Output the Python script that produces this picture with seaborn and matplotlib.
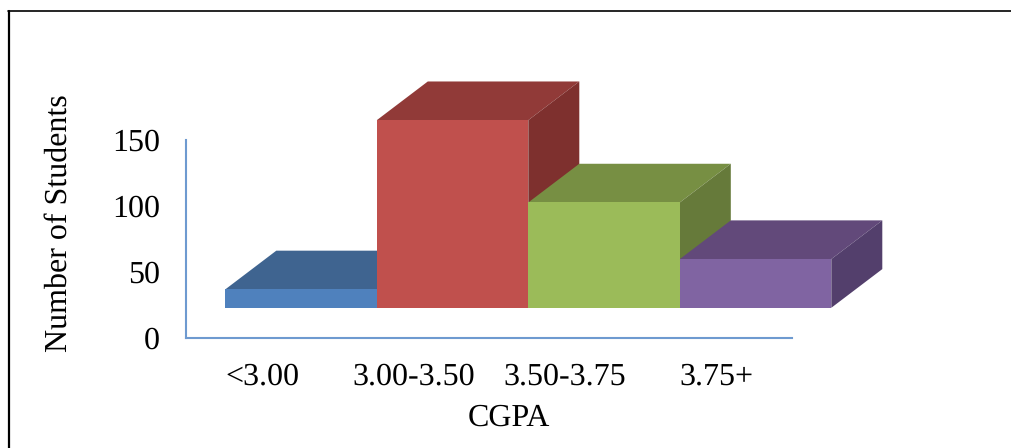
import matplotlib
matplotlib.use("Agg")
import matplotlib.pyplot as plt
import seaborn as sns
from matplotlib.lines import Line2D
from matplotlib.patches import Polygon
from matplotlib.transforms import ScaledTranslation

# data
categories = ["<3.00", "3.00-3.50", "3.50-3.75", "3.75+"]
students = [14, 142.5, 80, 37]
y_ticks = [0, 50, 100, 150]

# style
front_colors = ["#4F81BD", "#C0504D", "#9BBB59", "#8064A2"]
top_colors = ["#3F6490", "#913A38", "#778F43", "#62497A"]
side_colors = ["#355476", "#7E302E", "#667A3A", "#533F6C"]
axis_color = "#6E9AD0"

sns.set_theme(style="white")
plt.rcParams["font.family"] = ["Liberation Serif", "DejaVu Serif"]
plt.rcParams["text.hinting"] = "no_hinting"
plt.rcParams["text.hinting_factor"] = 1

W, H = 1011, 448
fig = plt.figure(figsize=(W / 100, H / 100), dpi=100, facecolor="white")
ax = fig.add_axes([186.3 / W, (H - 337.5) / H, 606 / W, 197.5 / H])

sns.barplot(x=categories, y=students, hue=categories, palette=front_colors,
            width=1, saturation=1, legend=False, ax=ax, linewidth=0)
ax.set_xlim(-0.5, 3.5)
ax.set_ylim(0, 150)
ax.set_yticks(y_ticks)

# pseudo-3D: the whole block floats off the axes, with a receding depth
shift = ax.transData + ScaledTranslation(39 / 100, 29.7 / 100, fig.dpi_scale_trans)
depth_x = 51 / (606 / 4)
depth_y = 38.7 / (197.5 / 150)

for i, bar in enumerate(ax.patches):
    x0, x1 = bar.get_x(), bar.get_x() + bar.get_width()
    h = bar.get_height()
    bar.set_transform(shift)
    bar.set_clip_on(False)
    bar.set_zorder(2 * i + 3)
    top = Polygon([(x0, h), (x1, h), (x1 + depth_x, h + depth_y), (x0 + depth_x, h + depth_y)],
                  closed=True, fc=top_colors[i], ec="none", transform=shift,
                  clip_on=False, zorder=2 * i + 2)
    side = Polygon([(x1, 0), (x1 + depth_x, depth_y), (x1 + depth_x, h + depth_y), (x1, h)],
                   closed=True, fc=side_colors[i], ec="none", transform=shift,
                   clip_on=False, zorder=2 * i + 2)
    ax.add_patch(top)
    ax.add_patch(side)

for s in ["top", "right"]:
    ax.spines[s].set_visible(False)
for s in ["left", "bottom"]:
    ax.spines[s].set_color(axis_color)
    ax.spines[s].set_linewidth(1.5)

ax.tick_params(axis="both", length=0, labelsize=23.3, labelcolor="black")
ax.tick_params(axis="y", pad=19)
ax.tick_params(axis="x", pad=18)
ax.set_xlabel("")
ax.set_ylabel("")
fig.text(58.5 / W, 1 - 223 / H, "Number of Students", rotation=90, ha="center", va="center",
         fontsize=23.3, color="black")
fig.text(508.5 / W, 1 - 417.5 / H, "CGPA", ha="center", va="center", fontsize=23.3, color="black")

# outer frame
fig.add_artist(Line2D([8.5 / W, 8.5 / W], [0, 1 - 11.5 / H], color="black", lw=1.6))
fig.add_artist(Line2D([8 / W, 1], [1 - 11.5 / H, 1 - 11.5 / H], color="black", lw=1.2))

fig.savefig("out.png", dpi=100)
